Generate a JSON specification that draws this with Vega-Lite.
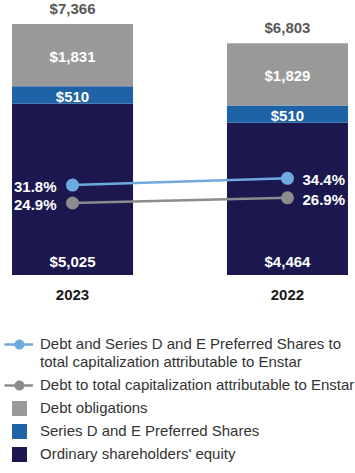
{
  "$schema": "https://vega.github.io/schema/vega-lite/v6.json",
  "width": 354,
  "height": 275,
  "padding": {"left": 3, "top": 0, "right": 0, "bottom": 0},
  "background": "white",
  "config": {"font": "Liberation Sans", "view": {"stroke": null}},
  "datasets": {
    "bars": [
      {"year": "2023", "series": "Ordinary shareholders' equity", "amount": 5025, "rank": 1},
      {"year": "2023", "series": "Series D and E Preferred Shares", "amount": 510, "rank": 2},
      {"year": "2023", "series": "Debt obligations", "amount": 1831, "rank": 3},
      {"year": "2022", "series": "Ordinary shareholders' equity", "amount": 4464, "rank": 1},
      {"year": "2022", "series": "Series D and E Preferred Shares", "amount": 510, "rank": 2},
      {"year": "2022", "series": "Debt obligations", "amount": 1829, "rank": 3}
    ],
    "lines": [
      {"year": "2023", "series": "Debt and Series D and E Preferred Shares to total capitalization attributable to Enstar", "value": 0.318},
      {"year": "2022", "series": "Debt and Series D and E Preferred Shares to total capitalization attributable to Enstar", "value": 0.344},
      {"year": "2023", "series": "Debt to total capitalization attributable to Enstar", "value": 0.249},
      {"year": "2022", "series": "Debt to total capitalization attributable to Enstar", "value": 0.269}
    ]
  },
  "encoding": {
    "x": {
      "field": "year",
      "type": "nominal",
      "sort": ["2023", "2022"],
      "scale": {"paddingInner": 0.437, "paddingOuter": 0.042},
      "axis": {"title": null, "domain": false, "ticks": false, "labelAngle": 0, "labelFontSize": 15, "labelFontWeight": "bold", "labelColor": "#1a1a1a", "labelPadding": 12}
    }
  },
  "layer": [
    {
      "data": {"name": "bars"},
      "mark": {"type": "bar"},
      "encoding": {
        "y": {"field": "amount", "type": "quantitative", "stack": "zero", "scale": {"domain": [0, 8069], "nice": false}, "axis": null},
        "order": {"field": "rank", "type": "quantitative"},
        "color": {
          "field": "series",
          "type": "nominal",
          "scale": {
            "domain": [
              "Debt and Series D and E Preferred Shares to total capitalization attributable to Enstar",
              "Debt to total capitalization attributable to Enstar",
              "Debt obligations",
              "Series D and E Preferred Shares",
              "Ordinary shareholders' equity"
            ],
            "range": ["#6FAADF", "#8C8C8C", "#999999", "#1F63A7", "#1B184F"]
          },
          "legend": {
            "orient": "none",
            "legendX": 9,
            "legendY": 337,
            "title": null,
            "padding": 0,
            "symbolSize": 225,
            "symbolType": "square",
            "labelFontSize": 15,
            "labelColor": "#333333",
            "labelLimit": 400,
            "labelOffset": 13,
            "rowPadding": 8,
            "labelExpr": "datum.label == 'Debt and Series D and E Preferred Shares to total capitalization attributable to Enstar' ? ['Debt and Series D and E Preferred Shares to', 'total capitalization attributable to Enstar'] : datum.label",
            "encode": {
              "symbols": {
                "update": {
                  "shape": {"signal": "indexof(datum.value, 'total capitalization') >= 0 ? 'M-2,-0.17H1.8V0.17H-2Z M-0.67,0A0.67,0.67 0 1,1 0.67,0A0.67,0.67 0 1,1 -0.67,0Z' : 'square'"},
                  "y": {"value": 7.5},
                  "strokeWidth": {"value": 0},
                  "fill": {"scale": "color", "field": "value"},
                  "opacity": {"value": 1}
                }
              },
              "labels": {
                "update": {
                  "baseline": {"value": "top"},
                  "y": {"value": 0},
                  "lineHeight": {"value": 17.5}
                }
              }
            }
          }
        }
      }
    },
    {
      "data": {"name": "bars"},
      "mark": {"type": "text", "color": "white", "fontWeight": "bold", "fontSize": 15, "baseline": "middle", "dy": 2},
      "encoding": {
        "y": {"field": "amount", "type": "quantitative", "stack": "zero", "bandPosition": 0.5, "scale": {"domain": [0, 8069], "nice": false}, "axis": null},
        "order": {"field": "rank", "type": "quantitative"},
        "text": {"field": "amount", "type": "quantitative", "format": "$,.0f"},
        "opacity": {"condition": {"test": "datum.rank == 1", "value": 0}, "value": 1}
      }
    },
    {
      "data": {"name": "bars"},
      "transform": [{"filter": "datum.rank == 1"}],
      "mark": {"type": "text", "color": "white", "fontWeight": "bold", "fontSize": 15, "baseline": "middle", "dy": -13},
      "encoding": {
        "y": {"datum": 0, "type": "quantitative", "scale": {"domain": [0, 8069], "nice": false}, "axis": null},
        "text": {"field": "amount", "type": "quantitative", "format": "$,.0f"}
      }
    },
    {
      "data": {"name": "bars"},
      "transform": [{"aggregate": [{"op": "sum", "field": "amount", "as": "total"}], "groupby": ["year"]}],
      "mark": {"type": "text", "color": "#595959", "fontWeight": "bold", "fontSize": 15, "baseline": "middle", "dy": -15},
      "encoding": {
        "y": {"field": "total", "type": "quantitative", "scale": {"domain": [0, 8069], "nice": false}, "axis": null},
        "text": {"field": "total", "type": "quantitative", "format": "$,.0f"}
      }
    },
    {
      "data": {"name": "lines"},
      "mark": {"type": "line", "strokeWidth": 2.5, "point": {"filled": true, "size": 170, "opacity": 1}},
      "encoding": {
        "y": {"field": "value", "type": "quantitative", "scale": {"domain": [-0.028, 1.03], "nice": false, "zero": false}, "axis": null},
        "color": {"field": "series", "type": "nominal"}
      }
    },
    {
      "data": {"name": "lines"},
      "transform": [{"filter": "datum.year == '2023'"}],
      "mark": {"type": "text", "color": "white", "fontWeight": "bold", "fontSize": 15, "baseline": "middle", "align": "right", "dx": -16, "dy": 2},
      "encoding": {
        "y": {"field": "value", "type": "quantitative", "scale": {"domain": [-0.028, 1.03], "nice": false, "zero": false}, "axis": null},
        "text": {"field": "value", "type": "quantitative", "format": ".1%"}
      }
    },
    {
      "data": {"name": "lines"},
      "transform": [{"filter": "datum.year == '2022'"}],
      "mark": {"type": "text", "color": "white", "fontWeight": "bold", "fontSize": 15, "baseline": "middle", "align": "left", "dx": 15, "dy": 2},
      "encoding": {
        "y": {"field": "value", "type": "quantitative", "scale": {"domain": [-0.028, 1.03], "nice": false, "zero": false}, "axis": null},
        "text": {"field": "value", "type": "quantitative", "format": ".1%"}
      }
    }
  ],
  "resolve": {"scale": {"y": "independent"}}
}
